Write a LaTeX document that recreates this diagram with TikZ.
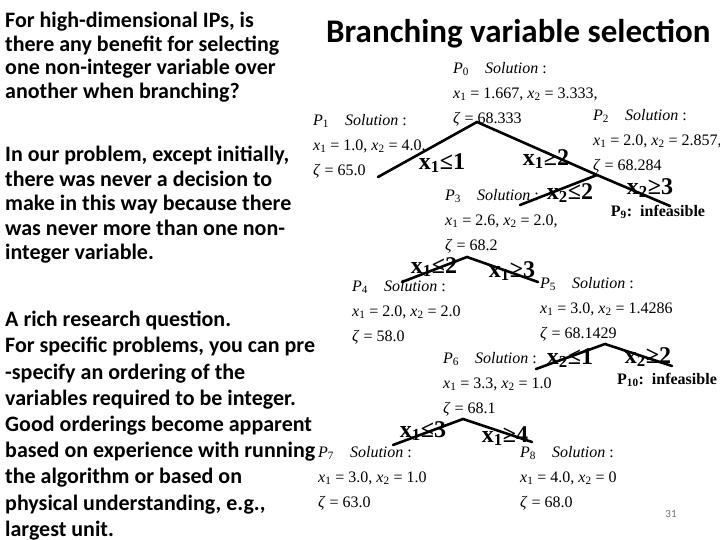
\documentclass[tikz,border=0pt]{standalone}
\usepackage{fontspec}
\setmainfont{Carlito}
\newfontfamily\tms{Liberation Serif}
\usetikzlibrary{positioning}
\newcommand{\xv}[1]{\textit{x}\textsubscript{#1}}
\newcommand{\pv}[1]{\textit{P}\textsubscript{#1}\quad\textit{Solution} :}
\newcommand{\zv}{\textit{ζ}}
\tikzset{
  slidetext/.style={
    anchor=north west,
    inner sep=0pt,
    align=left,
    font=\bfseries\fontsize{22}{23.5}\selectfont
  },
  solbox/.style={
    anchor=north west,
    inner sep=0pt,
    align=left,
    font=\tms\fontsize{16}{25}\selectfont
  },
  cutlabel/.style={
    inner sep=0pt,
    font=\tms\bfseries\fontsize{24}{26}\selectfont
  },
  infeas/.style={
    inner sep=0pt,
    font=\tms\bfseries\fontsize{16}{18}\selectfont
  },
  branch/.style={
    line width=2.6pt,
    line cap=round,
    draw=black
  }
}

\begin{document}
\begin{tikzpicture}[x=1pt,y=-1pt]
\path[fill=white, use as bounding box] (0,0) rectangle (720,540);

% title and slide text
\node[anchor=west, inner sep=0pt, font=\bfseries\fontsize{33}{36}\selectfont] (title) at (326,34) {Branching variable selection};
\node[slidetext] (ask) at (5,12) {For high-dimensional IPs, is\\there any benefit for selecting\\one non-integer variable over\\another when branching?};
\node[slidetext, font=\bfseries\fontsize{22}{24.5}\selectfont] (ours) at (5,146) {In our problem, except initially,\\there was never a decision to\\make in this way because there\\was never more than one non-\\integer variable.};
\node[slidetext, font=\bfseries\fontsize{22}{26.2}\selectfont] (rich) at (5,311) {A rich research question.\\For specific problems, you can pre\\-specify an ordering of the\\variables required to be integer.\\Good orderings become apparent\\based on experience with running\\the algorithm or based on\\physical understanding, e.g.,\\largest unit.};
\node[inner sep=0pt, font=\fontsize{11}{12}\selectfont, text=black!55] (page) at (671,514) {31};

% subproblems
\node[solbox] (p0) at (453,62) {\pv{0}\\\xv{1} = 1.667, \xv{2} = 3.333,\\\zv\ = 68.333};
\node[solbox] (p1) at (313,114) {\pv{1}\\\xv{1} = 1.0, \xv{2} = 4.0,\\\zv\ = 65.0};
\node[solbox] (p2) at (593,109) {\pv{2}\\\xv{1} = 2.0, \xv{2} = 2.857,\\\zv\ = 68.284};
\node[solbox] (p3) at (445,189) {\pv{3}\\\xv{1} = 2.6, \xv{2} = 2.0,\\\zv\ = 68.2};
\node[solbox] (p4) at (352,280) {\pv{4}\\\xv{1} = 2.0, \xv{2} = 2.0\\\zv\ = 58.0};
\node[solbox] (p5) at (540,277) {\pv{5}\\\xv{1} = 3.0, \xv{2} = 1.4286\\\zv\ = 68.1429};
\node[solbox] (p6) at (443,352) {\pv{6}\\\xv{1} = 3.3, \xv{2} = 1.0\\\zv\ = 68.1};
\node[solbox] (p7) at (318,446) {\pv{7}\\\xv{1} = 3.0, \xv{2} = 1.0\\\zv\ = 63.0};
\node[solbox] (p8) at (520,446) {\pv{8}\\\xv{1} = 4.0, \xv{2} = 0\\\zv\ = 68.0};

% branch points and ends
\coordinate (b0) at (477,122);
\coordinate (e1) at (378,177);
\coordinate (b2) at (597,175);
\coordinate (e9) at (670,206);
\coordinate (e3) at (520,205);
\coordinate (b3) at (467,257);
\coordinate (e4) at (402,282);
\coordinate (e5) at (538,282);
\coordinate (b5) at (605,344);
\coordinate (e6) at (536,369);
\coordinate (e10) at (672,366);
\coordinate (b6) at (463,419);
\coordinate (e7) at (393,445);
\coordinate (e8) at (532,442);

\draw[branch] (e1) -- (b0) -- (b2) -- (e9);
\draw[branch] (b2) -- (e3);
\draw[branch] (e4) -- (b3) -- (e5);
\draw[branch] (e6) -- (b5) -- (e10);
\draw[branch] (e7) -- (b6) -- (e8);

% cuts
\node[cutlabel] (c1) at (442,163) {x\textsubscript{1}≤1};
\node[cutlabel] (c2) at (546,159) {x\textsubscript{1}≥2};
\node[cutlabel] (c3) at (570,193) {x\textsubscript{2}≤2};
\node[cutlabel] (c4) at (650,188) {x\textsubscript{2}≥3};
\node[infeas] (p9) at (658,212) {P\textsubscript{9}:\ \ infeasible};
\node[cutlabel] (c5) at (434,267) {x\textsubscript{1}≤2};
\node[cutlabel] (c6) at (512,271) {x\textsubscript{1}≥3};
\node[cutlabel] (c7) at (570,358) {x\textsubscript{2}≤1};
\node[cutlabel] (c8) at (648,357) {x\textsubscript{2}≥2};
\node[infeas] (p10) at (667,380) {P\textsubscript{10}:\ \ infeasible};
\node[cutlabel] (c9) at (423,431) {x\textsubscript{1}≤3};
\node[cutlabel] (c10) at (505,436) {x\textsubscript{1}≥4};
\end{tikzpicture}
\end{document}
